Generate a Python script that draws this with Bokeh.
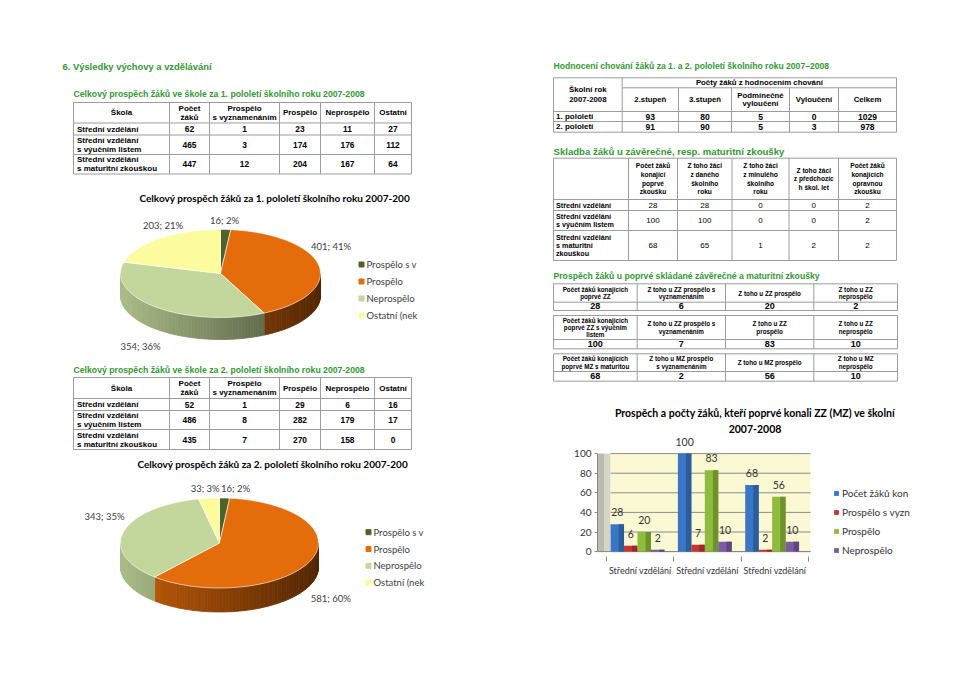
import numpy as np
from bokeh.plotting import figure
from bokeh.models import Range1d, Spacer, FixedTicker, Legend, LegendItem
from bokeh.layouts import row, column
from bokeh.core.properties import value
from bokeh.embed import file_html
from bokeh.resources import INLINE

# ---------------- data ----------------
page_heading = "6. Výsledky výchovy a vzdělávání"

t1_title = "Celkový prospěch žáků ve škole za 1. pololetí  školního  roku 2007-2008"
t2_title = "Celkový prospěch žáků ve škole za 2.  pololetí  školního  roku 2007-2008"
t_headers = [["Škola"], ["Počet", "žáků"], ["Prospělo", "s vyznamenáním"], ["Prospělo"], ["Neprospělo"], ["Ostatní"]]
t_schools = [["Střední vzdělání"], ["Střední vzdělání", "s výučním listem"], ["Střední vzdělání", "s maturitní zkouškou"]]
t1_pocet = [62, 465, 447]
t1_vyznam = [1, 3, 12]
t1_prospelo = [23, 174, 204]
t1_neprospelo = [11, 176, 167]
t1_ostatni = [27, 112, 64]
t2_pocet = [52, 486, 435]
t2_vyznam = [1, 8, 7]
t2_prospelo = [29, 282, 270]
t2_neprospelo = [6, 179, 158]
t2_ostatni = [16, 17, 0]

pie1_title = "Celkový prospěch žáků za 1. pololetí školního roku 2007-200"
pie2_title = "Celkový prospěch žáků za 2. pololetí školního roku 2007-200"
pie_legend = ["Prospělo s v", "Prospělo", "Neprospělo", "Ostatní (nek"]
pie1_values = [16, 401, 354, 203]
pie2_values = [16, 581, 343, 33]

beh_title = "Hodnocení chování žáků za 1. a 2. pololetí školního roku 2007–2008"
beh_corner = ["Školní rok", "2007-2008"]
beh_group = "Počty žáků z hodnocením chování"
beh_headers = [["2.stupeň"], ["3.stupeň"], ["Podmínečné", "vyloučení"], ["Vyloučení"], ["Celkem"]]
beh_periods = ["1. pololetí", "2. pololetí"]
beh_stupen2 = [93, 91]
beh_stupen3 = [80, 90]
beh_podminecne = [5, 5]
beh_vylouceni = [0, 3]
beh_celkem = [1029, 978]

sk_title = "Skladba žáků u závěrečné, resp. maturitní zkoušky"
sk_headers = [["Počet žáků", "konající", "poprvé", "zkoušku"],
              ["Z toho žáci", "z daného", "školního", "roku"],
              ["Z toho žáci", "z minulého", "školního", "roku"],
              ["Z toho žáci", "z předchozíc", "h škol. let"],
              ["Počet žáků", "konajících", "opravnou", "zkoušku"]]
sk_schools = [["Střední vzdělání"], ["Střední vzdělání", "s výučním listem"], ["Střední vzdělání", "s maturitní", "zkouškou"]]
sk_poprve = [28, 100, 68]
sk_dany = [28, 100, 65]
sk_minuly = [0, 0, 1]
sk_predchozi = [0, 0, 2]
sk_opravna = [2, 2, 2]

zk_title = "Prospěch žáků u poprvé skládané závěrečné a maturitní zkoušky"
zk_headers = [
    [["Počet žáků konajících", "poprvé ZZ"], ["Z toho u ZZ prospělo s", "vyznamenáním"], ["Z toho u ZZ prospělo"], ["Z toho u ZZ", "neprospělo"]],
    [["Počet žáků konajících", "poprvé ZZ s výučním", "listem"], ["Z toho u ZZ prospělo s", "vyznamenáním"], ["Z toho u ZZ", "prospělo"], ["Z toho u ZZ", "neprospělo"]],
    [["Počet žáků konajících", "poprvé MZ s maturitou"], ["Z toho u MZ prospělo", "s vyznamenáním"], ["Z toho u MZ prospělo"], ["Z toho u MZ", "neprospělo"]],
]
zk_pocet = [28, 100, 68]
zk_vyznam = [6, 7, 2]
zk_prospelo = [20, 83, 56]
zk_neprospelo = [2, 10, 10]

bar_title = ["Prospěch a počty žáků, kteří poprvé konali ZZ (MZ) ve školní", "2007-2008"]
bar_categories = ["Střední vzdělání", "Střední vzdělání", "Střední vzdělání"]
bar_series = ["Počet žáků kon", "Prospělo s vyzn", "Prospělo", "Neprospělo"]
bar_ticks = [0, 20, 40, 60, 80, 100]

# ---------------- styles ----------------
SANS = "Liberation Sans"
CAL = "Lato"
GREEN = "#339933"
LINE = "#9c9c9c"
DARK = "#404040"
PIE_COLORS = ["#4f6228", "#e46c0a", "#c3d69b", "#fcfc9e"]
BAR_COLORS = ["#3a76c6", "#c8352d", "#8fbc3c", "#7b5aa6"]


def shade(hexc, f):
    r, g, b = (int(hexc[i:i + 2], 16) for i in (1, 3, 5))
    return "#%02x%02x%02x" % (min(255, int(r * f)), min(255, int(g * f)), min(255, int(b * f)))


def make_canvas(x0, x1, y0, y1):
    return figure(width=int(round(x1 - x0)), height=int(round(y1 - y0)),
                  x_range=Range1d(x0, x1), y_range=Range1d(y1, y0),
                  x_axis_type=None, y_axis_type=None,
                  output_backend="svg", toolbar_location=None, min_border=0,
                  outline_line_color=None, background_fill_color="white",
                  border_fill_color="white")


class Sheet:
    def __init__(self, p):
        self.p = p
        self.txt = {}
        self.seg = ([], [], [], [])

    def text(self, x, y, s, size, font=SANS, bold=True, align="center", color="black"):
        d = self.txt.setdefault((size, font, bold, align, color), ([], [], []))
        d[0].append(x)
        d[1].append(y)
        d[2].append(str(s))

    def lines(self, x, y, rows, size, lh, **kw):
        n = len(rows)
        for i, s in enumerate(rows):
            self.text(x, y + (i - (n - 1) / 2) * lh, s, size, **kw)

    def h(self, y, x0, x1):
        self.seg[0].append(x0); self.seg[1].append(y); self.seg[2].append(x1); self.seg[3].append(y)

    def v(self, x, y0, y1):
        self.seg[0].append(x); self.seg[1].append(y0); self.seg[2].append(x); self.seg[3].append(y1)

    def grid(self, xs, ys):
        for y in ys:
            self.h(y, xs[0], xs[-1])
        for x in xs:
            self.v(x, ys[0], ys[-1])

    def flush(self):
        x0, y0, x1, y1 = self.seg
        if x0:
            self.p.segment(x0=x0, y0=y0, x1=x1, y1=y1, line_color=LINE, line_width=1)
        for (size, font, bold, align, color), (xs, ys, ss) in self.txt.items():
            self.p.text(x=xs, y=ys, text=ss, text_font=value(font), text_font_size=f"{size}px",
                        text_font_style="bold" if bold else "normal", text_align=align,
                        text_baseline="middle", text_color=color)


def school_table(sh, xs, ys, cols):
    sh.grid(xs, ys)
    hy = (ys[0] + ys[1]) / 2
    for i, hd in enumerate(t_headers):
        sh.lines((xs[i] + xs[i + 1]) / 2, hy, hd, 8, 9)
    for r in range(3):
        cy = (ys[r + 1] + ys[r + 2]) / 2
        sh.lines(xs[0] + 3.5, cy, t_schools[r], 8, 9, align="left")
        for c, col in enumerate(cols):
            sh.text((xs[c + 1] + xs[c + 2]) / 2, cy, col[r], 8.4)


def pie3d(p, values, cx, cy, rx, ry, depth):
    total = float(sum(values))
    edges = np.concatenate([[0.0], np.cumsum(values)]) / total * 2 * np.pi
    sx, sy, sc = [], [], []
    for i in range(len(values)):
        lo, hi = max(edges[i], np.pi / 2), min(edges[i + 1], 1.5 * np.pi)
        if hi <= lo:
            continue
        n = max(1, int(np.ceil((hi - lo) / 0.03)))
        ts = np.linspace(lo, hi, n + 1)
        for a, b in zip(ts[:-1], ts[1:]):
            xa, xb = cx + rx * np.sin(a), cx + rx * np.sin(b)
            ya, yb = cy - ry * np.cos(a), cy - ry * np.cos(b)
            sx.append([xa, xb, xb, xa])
            sy.append([ya, yb, yb + depth, ya + depth])
            f = 0.88 - 0.52 * ((xa + xb) / 2 - (cx - rx)) / (2 * rx)
            sc.append(shade(PIE_COLORS[i], f))
    p.patches(sx, sy, fill_color=sc, line_color=sc, line_width=0.8)
    tx, ty = [], []
    for i in range(len(values)):
        n = max(3, int((edges[i + 1] - edges[i]) / 0.02) + 2)
        ts = np.linspace(edges[i], edges[i + 1], n)
        tx.append([cx] + list(cx + rx * np.sin(ts)))
        ty.append([cy] + list(cy - ry * np.cos(ts)))
    p.patches(tx, ty, fill_color=PIE_COLORS, line_color="white", line_width=0.6)
    return total


def pie_block(p, sh, values, title, title_xy, center, rx, ry, depth, label_xy, leg_x, leg_y0, leg_dy):
    total = pie3d(p, values, center[0], center[1], rx, ry, depth)
    sh.text(title_xy[0], title_xy[1], title, 10, font=CAL, align="left")
    for v, (lx, ly) in zip(values, label_xy):
        sh.text(lx, ly, f"{v}; {round(100 * v / total)}%", 9.5, font=CAL, bold=False, color=DARK)
    lys = [leg_y0 + k * leg_dy for k in range(len(pie_legend))]
    p.scatter(x=[leg_x] * len(lys), y=lys, marker="square", size=5, color=PIE_COLORS)
    for s, ly in zip(pie_legend, lys):
        sh.text(leg_x + 5, ly, s, 9.5, font=CAL, bold=False, align="left", color=DARK)


# ---------------- left column ----------------
L1 = make_canvas(0, 488, 0, 182)
s1 = Sheet(L1)
s1.text(62, 66, page_heading, 9.4, align="left", color=GREEN)
s1.text(73, 93, t1_title, 8.7, align="left", color=GREEN)
school_table(s1, [73, 169, 209, 279, 320, 374, 411], [102, 122.5, 134.5, 154, 173.5],
             [t1_pocet, t1_vyznam, t1_prospelo, t1_neprospelo, t1_ostatni])
s1.flush()

L2 = make_canvas(0, 488, 182, 353)
s2 = Sheet(L2)
pie_block(L2, s2, pie1_values, pie1_title, (139, 197), (220, 273), 100, 44, 22,
          [(224, 220), (330.5, 245.7), (140, 346), (162.5, 225)], 361, 264, 17)
s2.flush()

L3 = make_canvas(0, 488, 353, 666)
s3 = Sheet(L3)
s3.text(73, 369, t2_title, 8.7, align="left", color=GREEN)
school_table(s3, [73, 169, 209, 279, 320, 374, 411], [377, 398, 410, 429, 449],
             [t2_pocet, t2_vyznam, t2_prospelo, t2_neprospelo, t2_ostatni])
pie_block(L3, s3, pie2_values, pie2_title, (137, 463), (219, 542.5), 99, 45, 24,
          [(235, 488.3), (330.3, 598.3), (104, 516), (204.7, 488.3)], 368, 531.7, 16.8)
s3.flush()

# ---------------- right column (tables) ----------------
R1 = make_canvas(488, 952, 0, 400)
r = Sheet(R1)

# behaviour table
r.text(553, 65, beh_title, 8.6, align="left", color=GREEN)
bx = [553, 621.7, 678, 731, 789, 838, 896]
by = [77.3, 87.3, 111, 121, 131.7]
r.h(by[0], bx[0], bx[-1]); r.h(by[1], bx[1], bx[-1])
for y in by[2:]:
    r.h(y, bx[0], bx[-1])
for x in (bx[0], bx[1], bx[-1]):
    r.v(x, by[0], by[-1])
for x in bx[2:-1]:
    r.v(x, by[1], by[-1])
r.lines((bx[0] + bx[1]) / 2, (by[0] + by[2]) / 2, beh_corner, 7.8, 9.5)
r.text((bx[1] + bx[-1]) / 2, (by[0] + by[1]) / 2, beh_group, 7.8)
for i, hd in enumerate(beh_headers):
    r.lines((bx[i + 1] + bx[i + 2]) / 2, (by[1] + by[2]) / 2, hd, 7.8, 8.5)
beh_cols = [beh_stupen2, beh_stupen3, beh_podminecne, beh_vylouceni, beh_celkem]
for k, per in enumerate(beh_periods):
    cy = (by[k + 2] + by[k + 3]) / 2
    r.text(bx[0] + 2.5, cy, per, 8, align="left")
    for c, col in enumerate(beh_cols):
        r.text((bx[c + 1] + bx[c + 2]) / 2, cy, col[k], 8.5)

# exam composition table
r.text(553, 150.7, sk_title, 9.6, align="left", color=GREEN)
sx_ = [553, 628, 677, 731.5, 788.5, 838, 896]
sy_ = [157.7, 199, 210, 230, 260]
r.grid(sx_, sy_)
for i, hd in enumerate(sk_headers):
    r.lines((sx_[i + 1] + sx_[i + 2]) / 2, (sy_[0] + sy_[1]) / 2, hd, 6.6, 8.7)
sk_cols = [sk_poprve, sk_dany, sk_minuly, sk_predchozi, sk_opravna]
for k in range(3):
    cy = (sy_[k + 1] + sy_[k + 2]) / 2
    r.lines(sx_[0] + 2.5, cy, sk_schools[k], 7.2, 8.3, align="left")
    for c, col in enumerate(sk_cols):
        r.text((sx_[c + 1] + sx_[c + 2]) / 2, cy, col[k], 8, bold=False)

# first-time exam results tables
r.text(553, 275, zk_title, 8.65, align="left", color=GREEN)
zx = [553, 636.7, 725, 813.3, 897]
zy = [[283.3, 301.7, 310], [315, 339, 348.3], [353.3, 371, 380.7]]
zk_cols = [zk_pocet, zk_vyznam, zk_prospelo, zk_neprospelo]
for t in range(3):
    ys = zy[t]
    r.grid(zx, ys)
    for c in range(4):
        cx = (zx[c] + zx[c + 1]) / 2
        r.lines(cx, (ys[0] + ys[1]) / 2, zk_headers[t][c], 6.3, 7.4)
        r.text(cx, (ys[1] + ys[2]) / 2, zk_cols[c][t], 9)
r.flush()

# ---------------- bar chart ----------------
X0, X1 = -0.634, 4.045
Y0, Y1 = -5, 154.2
WALL_L, WALL_R = -0.44, 2.53
pb = figure(width=352, height=180, x_range=Range1d(X0, X1), y_range=Range1d(Y0, Y1),
            output_backend="svg", toolbar_location=None,
            min_border_left=37, min_border_right=0, min_border_top=0, min_border_bottom=24,
            outline_line_color=None, background_fill_color="white", border_fill_color="white")
pb.grid.visible = False

# walls, floor and gridlines
pb.quad(left=[X0], right=[(X0 + WALL_L) / 2], bottom=[0], top=[bar_ticks[-1]], fill_color="#bcbcae", line_color=None)
pb.quad(left=[(X0 + WALL_L) / 2], right=[WALL_L], bottom=[0], top=[bar_ticks[-1]], fill_color="#d6d6c8", line_color=None)
pb.quad(left=[WALL_L], right=[WALL_R], bottom=[0], top=[bar_ticks[-1]], fill_color="#fbf8d4", line_color=None)
pb.segment(x0=[WALL_L] * len(bar_ticks), x1=[WALL_R] * len(bar_ticks), y0=bar_ticks, y1=bar_ticks,
           line_color="#8c8c8c", line_width=1)
pb.segment(x0=[X0], x1=[WALL_R], y0=[0], y1=[0], line_color="#868686", line_width=1)

series_vals = [zk_pocet, zk_vyznam, zk_prospelo, zk_neprospelo]
offsets = [-0.3, -0.1, 0.1, 0.3]
shift = -0.04
items = []
for j, vals in enumerate(series_vals):
    xs = [i + offsets[j] + shift for i in range(len(bar_categories))]
    rmain = pb.vbar(x=xs, top=vals, width=0.2, fill_color=BAR_COLORS[j], line_color=None)
    pb.vbar(x=[x + 0.06 for x in xs], top=vals, width=0.08, fill_color=shade(BAR_COLORS[j], 0.78), line_color=None)
    pb.text(x=xs, y=vals, text=[str(v) for v in vals], y_offset=-12, text_align="center",
            text_baseline="middle", text_font=value(CAL), text_font_size="10.5px", text_color="#333333")
    items.append(LegendItem(label=bar_series[j], renderers=[rmain]))

xmid = (X0 + X1) / 2
pb.text(x=[xmid, xmid], y=[Y1, Y1], text=bar_title, y_offset=[12, 28], text_align="center",
        text_baseline="middle", text_font=value(CAL), text_font_size="10.5px",
        text_font_style="bold", text_color="black")

pb.yaxis.ticker = FixedTicker(ticks=bar_ticks)
pb.yaxis.bounds = (0, bar_ticks[-1])
pb.yaxis.axis_line_color = "#868686"
pb.yaxis.major_tick_line_color = "#868686"
pb.yaxis.major_tick_out = 3
pb.yaxis.major_tick_in = 0
pb.yaxis.minor_tick_line_color = None
pb.yaxis.major_label_standoff = 3
pb.yaxis.major_label_text_font = CAL
pb.yaxis.major_label_text_font_size = "10px"
pb.yaxis.major_label_text_color = "#333333"

pb.xaxis.ticker = FixedTicker(ticks=[0, 1, 2], minor_ticks=[-0.5, 0.5, 1.5, 2.5])
pb.xaxis.axis_line_color = None
pb.xaxis.major_tick_out = 0
pb.xaxis.major_tick_in = 0
pb.xaxis.minor_tick_out = 5
pb.xaxis.minor_tick_in = 0
pb.xaxis.minor_tick_line_color = "#868686"
pb.xaxis.major_label_overrides = {i: c for i, c in enumerate(bar_categories)}
pb.xaxis.major_label_standoff = 3
pb.xaxis.major_label_text_font = CAL
pb.xaxis.major_label_text_font_size = "9px"
pb.xaxis.major_label_text_color = "#333333"

legend = Legend(items=items, location=(236, 0), glyph_width=6, glyph_height=6, label_standoff=3,
                spacing=7, padding=0, margin=0, label_height=12, border_line_color=None,
                background_fill_alpha=0, label_text_font=CAL, label_text_font_size="10px",
                label_text_color="#333333")
pb.add_layout(legend)

left = column(L1, L2, L3, spacing=0)
right = column(R1, row(Spacer(width=72, height=180), pb, spacing=0), spacing=0)
page = row(left, right, spacing=0)

with open("out.html", "w") as f:
    f.write(file_html(page, INLINE))
